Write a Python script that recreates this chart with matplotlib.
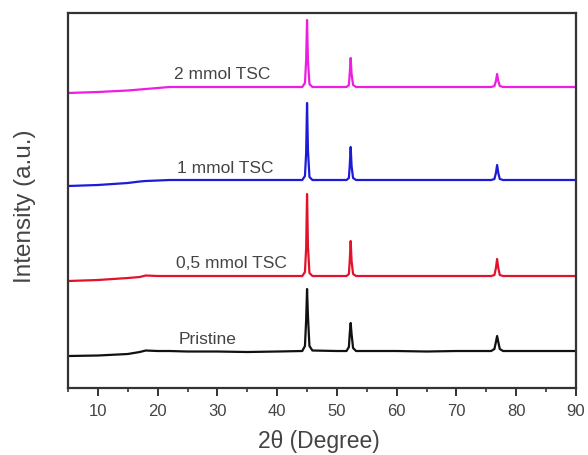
import numpy as np
from matplotlib import pyplot as plt

plt.rcParams['font.family'] = ['Liberation Sans', 'DejaVu Sans']

# 2theta grid (degrees), denser around the reflections
two_theta = [5, 10, 15, 17, 18, 20, 22, 25, 30, 35, 40,
             44.2, 44.65, 44.85, 45.0, 45.15, 45.4, 45.9,
             50,
             51.6, 52.0, 52.15, 52.3, 52.45, 52.7, 53.2,
             60, 65, 70,
             75.8, 76.35, 76.6, 76.8, 77.0, 77.25, 77.8,
             85, 90]

# stacked intensities (arbitrary units, offset already included)
pristine = [32, 32.5, 34, 36, 37.5, 37, 37, 36.5, 36.5, 36, 36.5,
            37, 42, 68, 99, 72, 42, 37.5,
            37,
            37, 41, 55, 65, 54, 40, 37,
            37, 36.5, 37,
            37, 39, 46, 52, 46, 39, 37,
            37, 37]
tsc_05 = [107, 108, 110, 111, 112.5, 112, 112, 112, 112, 112, 112,
          112, 116, 140, 194, 142, 115, 112,
          112,
          112, 114, 128, 147, 127, 114, 112,
          112, 112, 112,
          112, 113, 120, 129, 120, 113, 112,
          112, 112]
tsc_1 = [202, 203, 205, 206.5, 207, 207.5, 208, 208, 208, 208, 208,
         208, 212, 235, 285, 238, 211, 208,
         208,
         208, 210, 223, 241, 222, 210, 208,
         208, 208, 208,
         208, 209, 215, 223, 215, 209, 208,
         208, 208]
tsc_2 = [295, 296, 297.5, 298.5, 299, 300, 301, 301, 301, 301, 301,
         301, 305, 328, 368, 328, 304, 301,
         301,
         301, 303, 315, 330, 314, 303, 301,
         301, 301, 301,
         301, 302, 307, 314, 307, 302, 301,
         301, 301]

series = [
    (pristine, '#111111', 'Pristine', 28.3, 50),
    (tsc_05, '#e3122b', '0,5 mmol TSC', 32.4, 126),
    (tsc_1, '#1c1cd8', '1 mmol TSC', 31.3, 221),
    (tsc_2, '#ee1ee0', '2 mmol TSC', 30.8, 315),
]

fig = plt.figure(figsize=(5.88, 4.56), dpi=100)
ax = fig.add_axes([0.1156, 0.1469, 0.864, 0.8224])

for y, c, name, tx, ty in series:
    ax.plot(two_theta, y, color=c, lw=1.6)
    ax.text(tx, ty, name, ha='center', va='center', fontsize=12.5, color='#444444')

ax.set_xlim(5, 90)
ax.set_ylim(0, 375)
ax.set_xticks(np.arange(10, 91, 10))
ax.set_xticks(np.arange(5, 91, 5), minor=True)
ax.set_yticks([])
ax.tick_params(axis='x', which='major', direction='out', length=5.5, width=1.4,
               labelsize=12, labelcolor='#444444', color='#333333', pad=5.5)
ax.tick_params(axis='x', which='minor', direction='out', length=3, width=1.2, color='#333333')
for s in ax.spines.values():
    s.set_linewidth(1.6)
    s.set_color('#333333')

ax.set_xlabel('2θ (Degree)', fontsize=16.5, color='#444444')
ax.set_ylabel('Intensity (a.u.)', fontsize=17.5, color='#444444')
ax.xaxis.set_label_coords(0.493, -0.108)
ax.yaxis.set_label_coords(-0.062, 0.488)

plt.savefig('out.png', dpi=100)
